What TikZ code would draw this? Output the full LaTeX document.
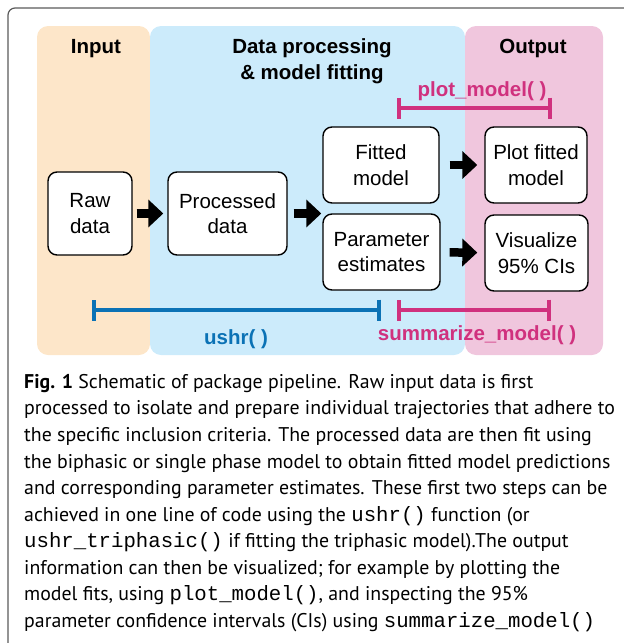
\documentclass[tikz,border=0pt]{standalone}
\usepackage{fontspec}
\setmainfont{Liberation Sans}
\setmonofont{Liberation Mono}
\newfontfamily\captionfont{PT Sans}
\usetikzlibrary{arrows.meta}
\definecolor{inputpeach}{HTML}{FDE6C9}
\definecolor{fitblue}{HTML}{CCEBFB}
\definecolor{outputpink}{HTML}{F0C6DD}
\definecolor{ushrblue}{HTML}{0B72B5}
\definecolor{funcmagenta}{HTML}{D0317E}
\definecolor{frameink}{HTML}{5A5A5A}
\newcommand{\stagepanel}[3]{%
  \fill[#3,rounded corners=11pt] (#1,26) rectangle (#2,355);
}
\newcommand{\code}[1]{{\fontsize{20.7}{26.56}\ttfamily #1}}

\begin{document}
\begin{tikzpicture}[x=1pt,y=-1pt,font=\fontsize{20.5}{25.5}\selectfont,
  stage/.style={draw,line width=1.4pt,fill=white,rounded corners=9pt,align=center,inner sep=2pt},
  flow/.style={line width=8.5pt,-{Triangle[length=15pt,width=27pt]}},
  funcbar/.style={line width=4pt,{Bar[width=21pt]}-{Bar[width=21pt]}},
  heading/.style={font=\fontsize{20.5}{26}\selectfont\bfseries,align=center},
  funclabel/.style={font=\fontsize{20.5}{25}\selectfont\bfseries,anchor=base}]
  \useasboundingbox (0,0) rectangle (624,643);
  \draw[frameink,line width=1.2pt,rounded corners=7pt] (8,643) -- (8,8) -- (624,8);
  % stages
  \stagepanel{37}{150}{inputpeach}
  \stagepanel{150}{465}{fitblue}
  \stagepanel{465}{603}{outputpink}
  \node[heading,anchor=base] (inputtitle) at (96,53) {Input};
  \node[heading,anchor=base] (fittitle) at (312,79) {Data processing\\\& model fitting};
  \node[heading,anchor=base] (outputtitle) at (533,53) {Output};
  % boxes
  \node[stage,minimum width=84pt,minimum height=83pt] (raw) at (90,213.5) {Raw\\data};
  \node[stage,minimum width=119pt,minimum height=83pt] (proc) at (227.5,213.5) {Processed\\data};
  \node[stage,minimum width=116pt,minimum height=76pt] (fitted) at (381,165) {Fitted\\model};
  \node[stage,minimum width=117pt,minimum height=76pt] (param) at (381.5,252) {Parameter\\estimates};
  \node[stage,minimum width=102pt,minimum height=76pt] (plot) at (536,165) {Plot fitted\\model};
  \node[stage,minimum width=103pt,minimum height=76pt] (vis) at (536.5,253) {Visualize\\95\% CIs};
  \coordinate (split) at (fitted.west |- proc.east);
  \draw[flow,shorten <=4pt,shorten >=4pt] (raw) -- (proc);
  \draw[flow,shorten <=6pt,shorten >=1pt] (proc) -- (split);
  \draw[flow,shorten <=10pt,shorten >=7pt] (fitted) -- (plot);
  \draw[flow,shorten <=9pt,shorten >=7pt] (param) -- (vis);
  % functions
  \coordinate (ushrstart) at (92,310);
  \coordinate (ushrend) at (381,310);
  \coordinate (plotstart) at (397,108);
  \coordinate (plotend) at (552,108);
  \coordinate (sumstart) at (397,310);
  \coordinate (sumend) at (551,310);
  \draw[funcbar,ushrblue] (ushrstart) -- (ushrend);
  \draw[funcbar,funcmagenta] (plotstart) -- (plotend);
  \draw[funcbar,funcmagenta] (sumstart) -- (sumend);
  \node[funclabel,text=ushrblue] (ushrlabel) at (236,344) {ushr( )};
  \node[funclabel,text=funcmagenta] (plotlabel) at (482,96) {plot\_model( )};
  \node[funclabel,text=funcmagenta] (sumlabel) at (477,340) {summarize\_model( )};
  % caption
  \node[anchor=north west,inner sep=0pt,align=left,
    font=\captionfont\fontsize{19.85}{26.56}\selectfont] (caption) at (24,374)
    {\textbf{Fig. 1} Schematic of package pipeline. Raw input data is first\\
    processed to isolate and prepare individual trajectories that adhere to\\
    the specific inclusion criteria. The processed data are then fit using\\
    the biphasic or single phase model to obtain fitted model predictions\\
    and corresponding parameter estimates. These first two steps can be\\
    achieved in one line of code using the \code{ushr()} function (or\\
    \code{ushr\_triphasic()} if fitting the triphasic model).The output\\
    information can then be visualized; for example by plotting the\\
    model fits, using \code{plot\_model()}, and inspecting the 95\%\\
    parameter confidence intervals (CIs) using \code{summarize\_model()}};
\end{tikzpicture}
\end{document}
